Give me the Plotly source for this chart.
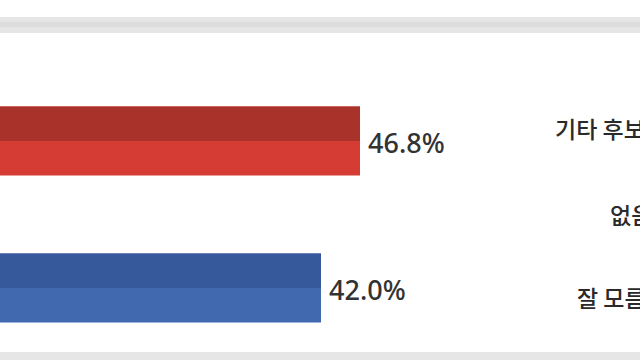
import plotly.graph_objects as go

# ---- data ----
candidates = ["후보 A", "후보 B"]
values = [46.8, 42.0]
light_colors = ["#d53c33", "#4169b0"]
dark_colors = ["#a9332b", "#35599b"]
other_labels = ["기타 후보", "없음", "잘 모름"]

W, H = 640, 360
bar_w = 0.47

fig = go.Figure()
# full (lighter) bars
fig.add_trace(go.Bar(
    y=candidates, x=values, orientation="h",
    marker=dict(color=light_colors, line=dict(width=0)),
    width=bar_w, offset=-bar_w / 2, hoverinfo="skip", showlegend=False,
))
# darker top halves
fig.add_trace(go.Bar(
    y=candidates, x=values, orientation="h",
    marker=dict(color=dark_colors, line=dict(width=0)),
    width=bar_w / 2, offset=-bar_w / 2, hoverinfo="skip", showlegend=False,
))

annotations = []
for c, v in zip(candidates, values):
    annotations.append(dict(
        x=v, y=c, xref="x", yref="y", text=f"{v:.1f}%", showarrow=False,
        xanchor="left", yanchor="middle", xshift=6, yshift=-1,
        font=dict(family="Noto Sans", size=27, color="#333333", weight=500),
    ))

label_px = [(553, 128), (608, 214), (575, 297)]
for lab, (px, py) in zip(other_labels, label_px):
    annotations.append(dict(
        x=px / W, y=1 - py / H, xref="paper", yref="paper", text=lab,
        showarrow=False, xanchor="left", yanchor="middle",
        font=dict(family="Noto Sans CJK KR", size=23, color="#2a2a2a", weight=500),
    ))

shapes = [
    dict(type="rect", xref="paper", yref="paper", x0=0, x1=1,
         y0=1 - 33 / H, y1=1 - 17 / H, fillcolor="#e5e5e5", line=dict(width=0), layer="below"),
    dict(type="rect", xref="paper", yref="paper", x0=0, x1=1,
         y0=1 - 22 / H, y1=1 - 27 / H, fillcolor="#dcdcdc", line=dict(width=0), layer="below"),
    dict(type="rect", xref="paper", yref="paper", x0=0, x1=1,
         y0=0, y1=1 - 352 / H, fillcolor="#e6e6e6", line=dict(width=0), layer="below"),
]

fig.update_layout(
    width=W, height=H, margin=dict(l=0, r=0, t=0, b=0),
    paper_bgcolor="white", plot_bgcolor="white",
    barmode="overlay",
    xaxis=dict(range=[2.492, 81.26], visible=False, fixedrange=True),
    yaxis=dict(range=[1.4898, -0.9592], visible=False, fixedrange=True,
               type="category"),
    annotations=annotations, shapes=shapes,
)

fig.write_html("out.html")
